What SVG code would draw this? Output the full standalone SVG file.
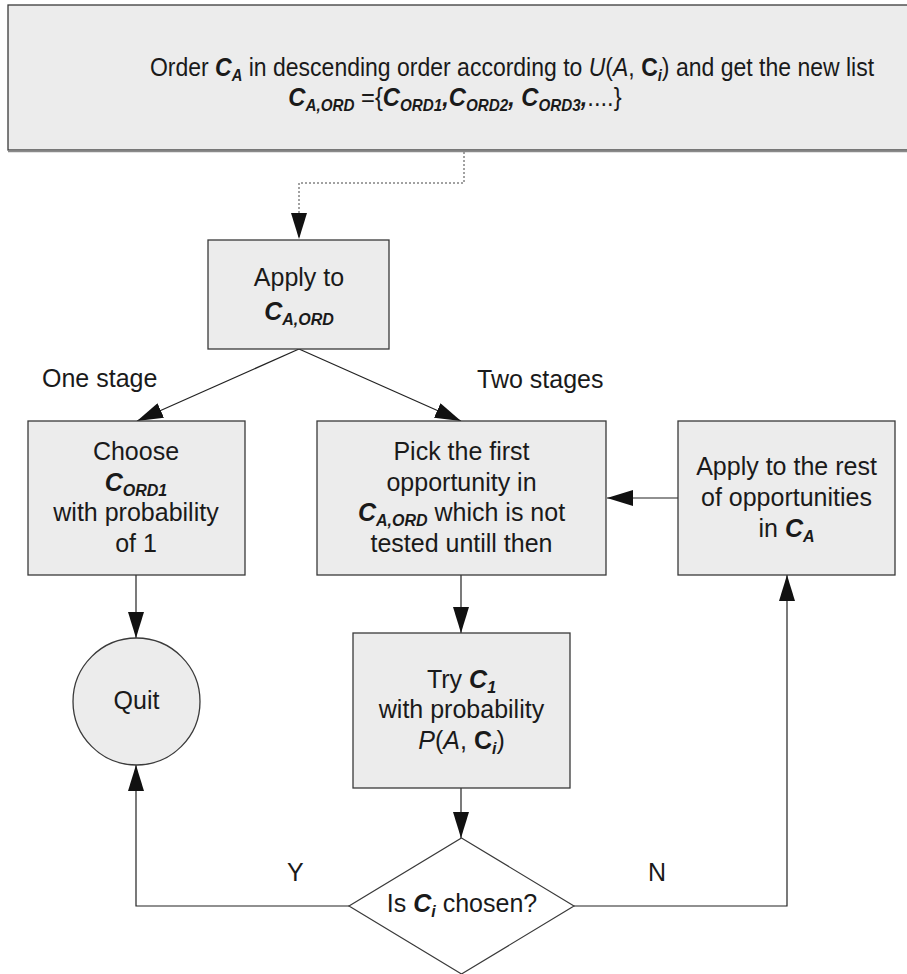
<svg xmlns="http://www.w3.org/2000/svg" width="907" height="974" viewBox="0 0 907 974">
  <style>
    .box { fill: #ececec; stroke: #3a3a3a; stroke-width: 1.3; }
    .t { font-family: "Liberation Sans", Arial, sans-serif; font-size: 25px; fill: #1a1a1a; text-anchor: middle; }
    .bi { font-weight: bold; font-style: italic; }
    .b { font-weight: bold; }
    .i { font-style: italic; }
    .sub { font-size: 16px; }
    .conn { fill: none; stroke: #222; stroke-width: 1.2; }
    .dot { fill: none; stroke: #444; stroke-width: 1; stroke-dasharray: 2 2; }
    .lbl { font-family: "Liberation Sans", Arial, sans-serif; font-size: 25px; fill: #1a1a1a; }
  </style>
  <defs>
    <marker id="arrow" markerUnits="userSpaceOnUse" markerWidth="26" markerHeight="16" refX="26" refY="8" orient="auto">
      <path d="M0,0 L26,8 L0,16 Z" fill="#111"/>
    </marker>
  </defs>

  <rect width="907" height="974" fill="#ffffff"/>

  <!-- connectors -->
  <g id="connectors">
    <path class="dot" d="M464,152 V183 H299 V239" marker-end="url(#arrow)"/>
    <line class="conn" x1="299" y1="349" x2="137" y2="421" marker-end="url(#arrow)"/>
    <line class="conn" x1="299" y1="349" x2="461" y2="421" marker-end="url(#arrow)"/>
    <line class="conn" x1="136" y1="575" x2="136" y2="638" marker-end="url(#arrow)"/>
    <line class="conn" x1="461" y1="575" x2="461" y2="633" marker-end="url(#arrow)"/>
    <line class="conn" x1="678" y1="498" x2="607" y2="498" marker-end="url(#arrow)"/>
    <line class="conn" x1="461" y1="788" x2="461" y2="838" marker-end="url(#arrow)"/>
    <path class="conn" d="M349,906 H136 V765" marker-end="url(#arrow)"/>
    <path class="conn" d="M574,906 H787 V575" marker-end="url(#arrow)"/>
  </g>

  <!-- edge labels -->
  <g id="labels">
    <text class="lbl" x="42" y="387">One stage</text>
    <text class="lbl" x="477" y="388">Two stages</text>
    <text class="lbl" x="287" y="881">Y</text>
    <text class="lbl" x="648" y="881">N</text>
  </g>

  <!-- ordering step -->
  <g id="order">
    <rect class="box" x="8" y="5" width="920" height="145"/>
    <line x1="8" y1="151.5" x2="907" y2="151.5" stroke="#8a8a8a" stroke-width="1.5"/>
    <text class="t" transform="translate(512,76) scale(0.92,1)" x="0" y="0">Order <tspan class="bi">C</tspan><tspan class="bi sub" dy="5">A</tspan><tspan dy="-5"> in descending order according to </tspan><tspan class="i">U</tspan>(<tspan class="i">A</tspan>, <tspan class="b">C</tspan><tspan class="bi sub" dy="5">i</tspan><tspan dy="-5">) and get the new list</tspan></text>
    <text class="t" transform="translate(455,106) scale(0.95,1)" x="0" y="0"><tspan class="bi">C</tspan><tspan class="bi sub" dy="5">A,ORD</tspan><tspan dy="-5"> =</tspan>{<tspan class="bi">C</tspan><tspan class="bi sub" dy="5">ORD1</tspan><tspan class="bi" dy="-5">,</tspan><tspan class="bi">C</tspan><tspan class="bi sub" dy="5">ORD2</tspan><tspan class="bi" dy="-5">, C</tspan><tspan class="bi sub" dy="5">ORD3</tspan><tspan class="bi" dy="-5">,</tspan>....}</text>
  </g>

  <!-- apply step -->
  <g id="apply">
    <rect class="box" x="208" y="240" width="181" height="109"/>
    <text class="t" x="299" y="286">Apply to</text>
    <text class="t" x="299" y="320"><tspan class="bi">C</tspan><tspan class="bi sub" dy="5">A,ORD</tspan></text>
  </g>

  <!-- one-stage branch -->
  <g id="choose">
    <rect class="box" x="28" y="421" width="217" height="154"/>
    <text class="t" x="136" y="460">Choose</text>
    <text class="t" x="136" y="491"><tspan class="bi">C</tspan><tspan class="bi sub" dy="5">ORD1</tspan></text>
    <text class="t" x="136" y="521">with probability</text>
    <text class="t" x="136" y="552">of 1</text>
  </g>

  <g id="quit">
    <circle cx="136.5" cy="701.5" r="63.5" fill="#ececec" stroke="#3a3a3a" stroke-width="1.3"/>
    <text class="t" x="136.5" y="709">Quit</text>
  </g>

  <!-- two-stage branch -->
  <g id="pick">
    <rect class="box" x="317" y="421" width="289" height="154"/>
    <text class="t" x="461.5" y="460">Pick the first</text>
    <text class="t" x="461.5" y="491">opportunity in</text>
    <text class="t" x="461.5" y="521"><tspan class="bi">C</tspan><tspan class="bi sub" dy="5">A,ORD</tspan><tspan dy="-5"> which is not</tspan></text>
    <text class="t" x="461.5" y="552">tested untill then</text>
  </g>

  <g id="rest">
    <rect class="box" x="678" y="421" width="217" height="154"/>
    <text class="t" x="786.5" y="475">Apply to the rest</text>
    <text class="t" x="786.5" y="506">of opportunities</text>
    <text class="t" x="786.5" y="537">in <tspan class="bi">C</tspan><tspan class="bi sub" dy="5">A</tspan></text>
  </g>

  <g id="try">
    <rect class="box" x="353" y="633" width="217" height="155"/>
    <text class="t" x="461.5" y="688">Try <tspan class="bi">C</tspan><tspan class="bi sub" dy="5">1</tspan></text>
    <text class="t" x="461.5" y="718">with probability</text>
    <text class="t" x="461.5" y="749"><tspan class="i">P</tspan>(<tspan class="i">A</tspan>, <tspan class="b">C</tspan><tspan class="bi sub" dy="5">i</tspan><tspan dy="-5">)</tspan></text>
  </g>

  <g id="decision">
    <polygon points="461.5,838 574,906 461.5,974 349,906" fill="#ffffff" stroke="#3a3a3a" stroke-width="1.2"/>
    <text class="t" x="462" y="912">Is <tspan class="bi">C</tspan><tspan class="bi sub" dy="5">i</tspan><tspan dy="-5"> chosen?</tspan></text>
  </g>
</svg>
